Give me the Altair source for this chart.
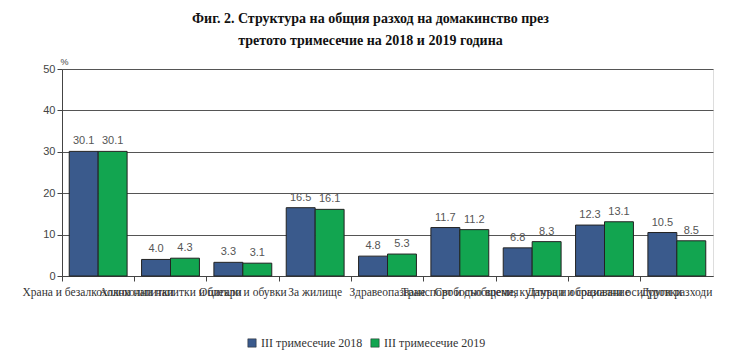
import altair as alt
import pandas as pd

categories = [
    "Храна и безалкохолни напитки",
    "Алкохолни напитки и цигари",
    "Облекло и обувки",
    "За жилище",
    "Здравеопазване",
    "Транспорт и съобщения",
    "Свободно време, култура и образование",
    "Данъци и социални осигуровки",
    "Други разходи",
]
series = ["III тримесечие 2018", "III тримесечие 2019"]
values_2018 = [30.1, 4.0, 3.3, 16.5, 4.8, 11.7, 6.8, 12.3, 10.5]
values_2019 = [30.1, 4.3, 3.1, 16.1, 5.3, 11.2, 8.3, 13.1, 8.5]
colors = ["#3a5a8c", "#12a550"]

rows = []
for c, a, b in zip(categories, values_2018, values_2019):
    rows.append({"cat": c, "series": series[0], "v": a, "lbl": f"{a:.1f}"})
    rows.append({"cat": c, "series": series[1], "v": b, "lbl": f"{b:.1f}"})
df = pd.DataFrame(rows)

x = alt.X(
    "cat:N",
    sort=categories,
    scale=alt.Scale(paddingInner=0, paddingOuter=0),
    axis=alt.Axis(
        title=None,
        labelAngle=0,
        labelOverlap=False,
        labelLimit=0,
        labelFont="Liberation Serif",
        labelFontSize=11.5,
        labelColor="#333",
        labelPadding=5,
        bandPosition=0,
        ticks=True,
        tickSize=5,
        tickColor="#444",
        domainColor="#444",
        grid=False,
    ),
)
xo = alt.XOffset("series:N", sort=series, scale=alt.Scale(paddingInner=0, paddingOuter=0.25))

base = alt.Chart(df)

bars = base.mark_bar(stroke="#222", strokeWidth=1).encode(
    x=x,
    xOffset=xo,
    y=alt.Y(
        "v:Q",
        scale=alt.Scale(domain=[0, 50]),
        axis=alt.Axis(
            values=[0, 10, 20, 30, 40, 50],
            title="%",
            titleAngle=0,
            titleX=-2,
            titleY=-3,
            titleAlign="left",
            titleFont="Liberation Sans",
            titleFontSize=9,
            titleFontWeight="normal",
            titleColor="#444",
            labelFont="Liberation Sans",
            labelFontSize=11,
            labelColor="#444",
            tickSize=5,
            tickColor="#444",
            domainColor="#444",
            gridColor="#555",
            gridWidth=1,
            grid=True,
        ),
    ),
    color=alt.Color(
        "series:N",
        sort=series,
        scale=alt.Scale(domain=series, range=colors),
        legend=alt.Legend(
            title=None,
            orient="none",
            direction="horizontal",
            legendX=184,
            legendY=268,
            symbolType="square",
            symbolSize=70,
            symbolStrokeColor="#222",
            symbolStrokeWidth=0.5,
            labelFont="Liberation Serif",
            labelFontSize=12,
            labelColor="#333",
            columnPadding=6,
            labelOffset=3,
        ),
    ),
)

labels = base.mark_text(
    dy=-10, font="Liberation Sans", fontSize=11, color="#555"
).encode(
    x=x,
    xOffset=xo,
    y="v:Q",
    text="lbl:N",
)

chart = (
    alt.layer(bars, labels)
    .properties(
        width=651,
        height=207,
        autosize=alt.AutoSizeParams(type="none"),
        padding={"left": 54, "top": 61, "right": 19, "bottom": 76},
        title=alt.TitleParams(
            text=[
                "Фиг. 2. Структура на общия разход на домакинство през",
                "третото тримесечие на 2018 и 2019 година",
            ],
            font="Liberation Serif",
            fontSize=14,
            fontWeight="bold",
            color="#111",
            anchor="middle",
            dx=-17,
            offset=9,
            lineHeight=22,
        ),
    )
    .configure_view(stroke="#555", strokeWidth=1)
    .configure(background="white")
)

chart.save("out.html", embed_options={"renderer": "svg", "actions": False})
